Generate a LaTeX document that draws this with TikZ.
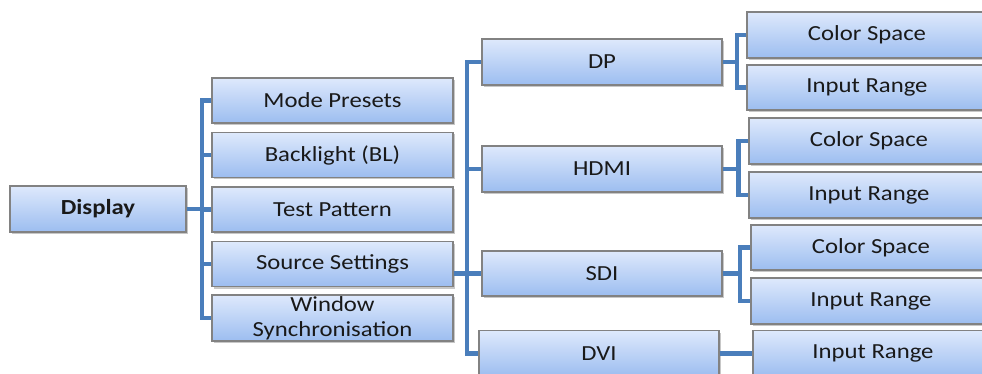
\documentclass[tikz,border=0pt]{standalone}
\usepackage{fontspec}
\setmainfont{Carlito}[FakeStretch=1.15]
\usetikzlibrary{shadows}
\definecolor{boxtop}{RGB}{222,233,252}
\definecolor{boxbot}{RGB}{156,189,240}
\definecolor{boxline}{RGB}{130,130,130}
\definecolor{connc}{RGB}{74,126,187}
\definecolor{txt}{RGB}{25,25,25}
\tikzset{
  box/.style={draw=boxline, line width=1.1pt, top color=boxtop, bottom color=boxbot,
    minimum width=240pt, minimum height=45pt, inner sep=0pt, text=txt,
    font=\fontsize{21.5}{25}\selectfont, align=center,
    drop shadow={shadow xshift=1.5pt, shadow yshift=-2pt, fill=black!40, opacity=0.55}},
  conn/.style={draw=connc, line width=4.2pt}
}
\begin{document}
\begin{tikzpicture}[x=1pt,y=-1pt]
\useasboundingbox (0,0) rectangle (982,374);
\clip (0,0) rectangle (982,374);
% level 1
\node[box, minimum width=176pt, minimum height=46pt, font=\fontsize{21.5}{25}\selectfont\bfseries] (D) at (98,209) {Display};
% level 2
\node[box, minimum width=241pt] (MP) at (332.5,100.5) {Mode Presets};
\node[box, minimum width=241pt] (BL) at (332.5,155) {Backlight (BL)};
\node[box, minimum width=241pt] (TP) at (332.5,209.5) {Test Pattern};
\node[box, minimum width=241pt] (SS) at (332.5,264) {Source Settings};
\node[box, minimum width=241pt, minimum height=46pt] (WS) at (332.5,318) {\raisebox{1pt}{Window}\\[-1pt]Synchronisation};
% level 3
\node[box, minimum height=46pt] (DP) at (602,62) {DP};
\node[box, minimum height=46pt] (HDMI) at (602,169) {HDMI};
\node[box] (SDI) at (602,273.5) {SDI};
\node[box, minimum height=46pt] (DVI) at (599,353.5) {DVI};
% level 4
\node[box, minimum height=46pt] (CS1) at (867,35) {Color Space};
\node[box] (IR1) at (867,87.5) {Input Range};
\node[box, minimum height=46pt] (CS2) at (869,141) {Color Space};
\node[box, minimum height=46pt] (IR2) at (869,195) {Input Range};
\node[box] (CS3) at (871,247.5) {Color Space};
\node[box, minimum height=46pt] (IR3) at (871,301) {Input Range};
\node[box, minimum height=46pt] (IR4) at (873,353.5) {Input Range};
% trunk coordinates
\coordinate (t2) at (202,0);
\coordinate (t3) at (467,0);
\coordinate (t4a) at (737,0);
\coordinate (t4b) at (738.5,0);
\coordinate (t4c) at (740,0);
% connectors level 1-2
\draw[conn] (D.east) -- (D.east -| t2);
\draw[conn] (MP.west) -- (MP.west -| t2) -- (WS.west -| t2) -- (WS.west);
\draw[conn] (BL.west) -- (BL.west -| t2);
\draw[conn] (TP.west) -- (TP.west -| t2);
\draw[conn] (SS.west) -- (SS.west -| t2);
% connectors level 2-3
\draw[conn] (DP.west) -- (DP.west -| t3) -- (DVI.west -| t3) -- (DVI.west);
\draw[conn] (HDMI.west) -- (HDMI.west -| t3);
\draw[conn] (SS.east |- SDI.west) -- (SDI.west);
% connectors level 3-4
\draw[conn] (DP.east) -- (DP.east -| t4a);
\draw[conn] (CS1.west) -- (CS1.west -| t4a) -- (IR1.west -| t4a) -- (IR1.west);
\draw[conn] (HDMI.east) -- (HDMI.east -| t4b);
\draw[conn] (CS2.west) -- (CS2.west -| t4b) -- (IR2.west -| t4b) -- (IR2.west);
\draw[conn] (SDI.east) -- (SDI.east -| t4c);
\draw[conn] (CS3.west) -- (CS3.west -| t4c) -- (IR3.west -| t4c) -- (IR3.west);
\draw[conn] (DVI.east) -- (IR4.west);
\end{tikzpicture}
\end{document}
